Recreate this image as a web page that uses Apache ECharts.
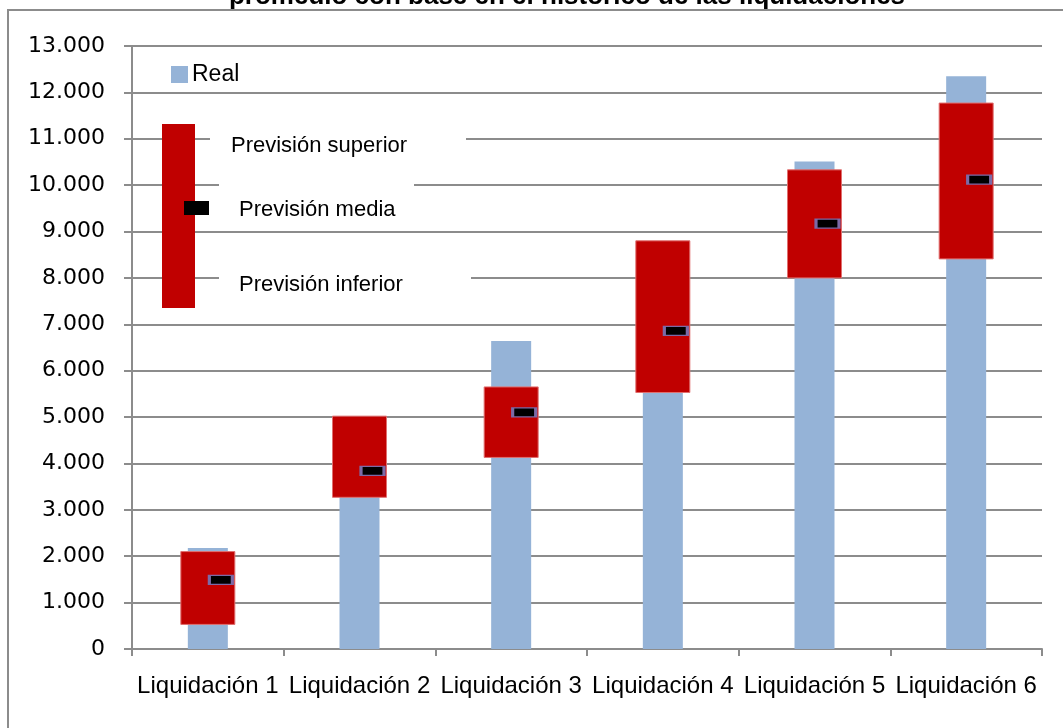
<!DOCTYPE html>
<html>
<head>
<meta charset="utf-8">
<script src="https://cdn.jsdelivr.net/npm/echarts@6/dist/echarts.min.js"></script>
<style>
html,body{margin:0;padding:0;background:#fff;}
#chart{width:1063px;height:728px;}
</style>
</head>
<body>
<div id="chart"></div>
<script>
const categories = ['Liquidación 1','Liquidación 2','Liquidación 3','Liquidación 4','Liquidación 5','Liquidación 6'];
const real = [2180, 4400, 6640, 8500, 10510, 12350];
const prevSuperior = [2100, 5020, 5650, 8800, 10330, 11770];
const prevInferior = [530, 3270, 4130, 5530, 8000, 8410];
const prevMedia = [1490, 3840, 5100, 6860, 9170, 10120];
const titleText = 'promedio con base en el histórico de las liquidaciones';

const grayLine = '#8c8c8c';
const chart = echarts.init(document.getElementById('chart'), null, {renderer:'canvas'});

function fmtThousands(v){
  return String(v).replace(/\B(?=(\d{3})+(?!\d))/g, '.');
}

const boxData = categories.map((c,i)=>[i, prevInferior[i], prevSuperior[i]]);
const mediaData = categories.map((c,i)=>[i, prevMedia[i]]);

const option = {
  animation:false,
  backgroundColor:'#fff',
  grid:{left:132, right:21, top:46, bottom:79, containLabel:false},
  xAxis:{
    type:'category',
    data:categories,
    axisLine:{lineStyle:{color:grayLine, width:2}},
    axisTick:{show:true, length:7, lineStyle:{color:grayLine, width:2}},
    axisLabel:{color:'#000', fontFamily:'Liberation Sans', fontSize:24, margin:25, interval:0}
  },
  yAxis:{
    type:'value', min:0, max:13000, interval:1000,
    axisLine:{show:true, lineStyle:{color:grayLine, width:2}},
    axisTick:{show:true, length:8, lineStyle:{color:grayLine, width:2}},
    splitLine:{show:true, lineStyle:{color:grayLine, width:2}},
    axisLabel:{color:'#000', fontFamily:'DejaVu Sans', fontSize:22, margin:27, formatter:fmtThousands}
  },
  series:[
    {
      name:'Real', type:'bar', data:real, barWidth:40, z:2,
      itemStyle:{color:'#95b3d7'}
    },
    {
      name:'Previsión', type:'custom', z:3,
      data:boxData,
      encode:{x:0, y:[1,2]},
      renderItem:function(params, api){
        const lo = api.coord([api.value(0), api.value(1)]);
        const hi = api.coord([api.value(0), api.value(2)]);
        const w = 54;
        return {
          type:'rect',
          shape:{x:hi[0]-w/2, y:hi[1], width:w, height:lo[1]-hi[1]},
          style:{fill:'#c00000', stroke:'#e07070', lineWidth:1}
        };
      }
    },
    {
      name:'Previsión media', type:'scatter', z:4,
      data:mediaData,
      symbol:'rect', symbolSize:[23,9], symbolOffset:[13,0],
      itemStyle:{color:'#000', borderColor:'#7b6aa6', borderWidth:2, opacity:1}
    }
  ],
  graphic:[
    {type:'text', z:100, x:567, y:-3, style:{text:titleText, fontFamily:'Liberation Sans', fontWeight:'bold', fontSize:26, fill:'#000', align:'center', verticalAlign:'middle'}},
    {type:'rect', z:50, shape:{x:8, y:10, width:1200, height:900}, style:{fill:'none', stroke:grayLine, lineWidth:2}},
    // legend: Real
    {type:'rect', z:100, shape:{x:171, y:66, width:17, height:17}, style:{fill:'#95b3d7'}},
    {type:'text', z:100, x:192, y:75, style:{text:'Real', fontFamily:'Liberation Sans', fontSize:23, fill:'#000', verticalAlign:'middle'}},
    // white text boxes covering gridlines
    {type:'rect', z:90, shape:{x:210, y:125, width:256, height:36}, style:{fill:'#fff'}},
    {type:'rect', z:90, shape:{x:219, y:176, width:195, height:46}, style:{fill:'#fff'}},
    {type:'rect', z:90, shape:{x:219, y:266, width:252, height:34}, style:{fill:'#fff'}},
    // legend: Previsión bar
    {type:'rect', z:100, shape:{x:162, y:124, width:33, height:184}, style:{fill:'#c00000'}},
    {type:'rect', z:101, shape:{x:184, y:201, width:25, height:14}, style:{fill:'#000'}},
    {type:'text', z:100, x:231, y:146, style:{text:'Previsión superior', fontFamily:'Liberation Sans', fontSize:22, fill:'#000', verticalAlign:'middle'}},
    {type:'text', z:100, x:239, y:210, style:{text:'Previsión media', fontFamily:'Liberation Sans', fontSize:22, fill:'#000', verticalAlign:'middle'}},
    {type:'text', z:100, x:239, y:285, style:{text:'Previsión inferior', fontFamily:'Liberation Sans', fontSize:22, fill:'#000', verticalAlign:'middle'}}
  ]
};
chart.setOption(option);
</script>
</body>
</html>
